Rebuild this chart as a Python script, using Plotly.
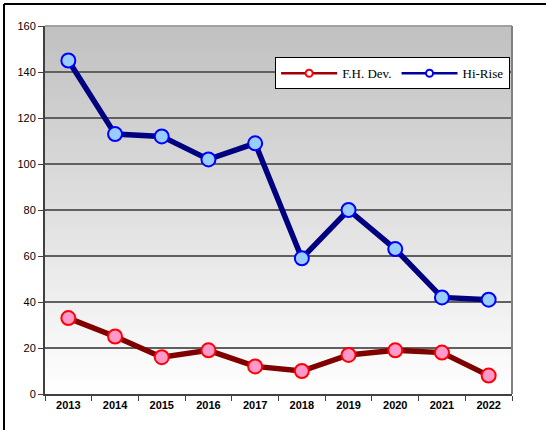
import plotly.graph_objects as go

years = ["2013", "2014", "2015", "2016", "2017", "2018", "2019", "2020", "2021", "2022"]
fh_dev = [33, 25, 16, 19, 12, 10, 17, 19, 18, 8]
hi_rise = [145, 113, 112, 102, 109, 59, 80, 63, 42, 41]
y_ticks = [0, 20, 40, 60, 80, 100, 120, 140, 160]

fig = go.Figure()

series = [
    ("F.H. Dev.", fh_dev, "#800000", "#ff99cc", "#ff0000"),
    ("Hi-Rise", hi_rise, "#000080", "#99ccff", "#0000ff"),
]

for name, vals, line_c, fill_c, edge_c in series:
    fig.add_trace(go.Scatter(
        x=years, y=vals, mode="lines+markers", name=name, showlegend=False,
        line=dict(color=line_c, width=5.5),
        marker=dict(size=14, color=fill_c, line=dict(color=edge_c, width=2)),
    ))

# thinner entries for the legend
legend_cols = {"F.H. Dev.": ("#a00000", "#ff0000"),
               "Hi-Rise": ("#0000a0", "#0000ff")}
for name, vals, *_ in series:
    lc, ec = legend_cols[name]
    fig.add_trace(go.Scatter(
        x=[None], y=[None], mode="lines+markers", name=name,
        line=dict(color=lc, width=2.5),
        marker=dict(size=7, color="white", line=dict(color=ec, width=2)),
    ))

# vertical grey-to-white gradient behind the plot area
shapes = []
n = 184
for i in range(n):
    t = (i + 0.5) / n
    v = int(round(192 + (255 - 192) * (1 - t)))
    v = min(v, 255)
    shapes.append(dict(
        type="rect", xref="x domain", yref="y domain",
        x0=0, x1=1, y0=i / n, y1=(i + 1) / n,
        fillcolor=f"rgb({v},{v},{v})", line=dict(width=0), layer="below",
    ))
# plot-area frame on top and right
shapes.append(dict(type="line", xref="x domain", yref="y domain",
                   x0=0, x1=1, y0=1, y1=1, line=dict(color="#a0a0a0", width=2)))
shapes.append(dict(type="line", xref="x domain", yref="y domain",
                   x0=1, x1=1, y0=0, y1=1, line=dict(color="#808080", width=2)))
# chart border
top_y = 1 + 22 / 368
left_x = -41 / 467
shapes.append(dict(type="line", xref="paper", yref="paper",
                   x0=left_x, x1=1.2, y0=top_y, y1=top_y,
                   line=dict(color="black", width=2)))
shapes.append(dict(type="line", xref="paper", yref="paper",
                   x0=left_x, x1=left_x, y0=-0.2, y1=top_y,
                   line=dict(color="black", width=2)))

fig.update_layout(
    width=546, height=430,
    margin=dict(l=45, r=34, t=26, b=36),
    paper_bgcolor="white", plot_bgcolor="rgba(0,0,0,0)",
    shapes=shapes,
    showlegend=True,
    legend=dict(
        x=0.996, xanchor="right", y=0.915, yanchor="top",
        orientation="h", bgcolor="white", bordercolor="black", borderwidth=1,
        font=dict(family="Liberation Serif", size=13, color="black"),
        itemwidth=56, tracegroupgap=0,
    ),
    xaxis=dict(
        type="category", range=[-0.5, 9.5],
        showgrid=False, showline=True, linecolor="#404040", linewidth=2,
        ticks="outside", tickson="boundaries", ticklen=5, tickcolor="#404040",
        tickfont=dict(family="Liberation Sans", size=11, color="black", weight="bold"),
        zeroline=False,
    ),
    yaxis=dict(
        range=[0, 160], tickvals=y_ticks,
        showgrid=True, gridcolor="#606060", gridwidth=1.5,
        showline=True, linecolor="#404040", linewidth=2,
        ticks="outside", ticklen=5, tickcolor="#404040",
        tickfont=dict(family="Liberation Sans", size=11, color="black"),
        zeroline=False,
    ),
)

fig.write_html("out.html")
